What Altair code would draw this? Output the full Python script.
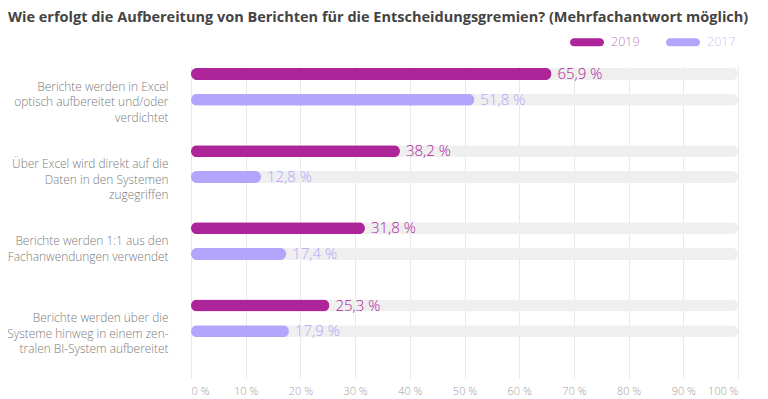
import altair as alt
import pandas as pd

# ---- data ----
category_lines = [
    ["Berichte werden in Excel", "optisch aufbereitet und/oder", "verdichtet"],
    ["Über Excel wird direkt auf die", "Daten in den Systemen", "zugegriffen"],
    ["Berichte werden 1:1 aus den", "Fachanwendungen verwendet"],
    ["Berichte werden über die", "Systeme hinweg in einem zen-", "tralen BI-System aufbereitet"],
]
series = ["2019", "2017"]
values_2019 = [65.9, 38.2, 31.8, 25.3]
values_2017 = [51.8, 12.8, 17.4, 17.9]
x_ticks = [0, 10, 20, 30, 40, 50, 60, 70, 80, 90, 100]

colors = ["#ae2499", "#b2a5fb"]
legend_label_colors = ["#c27cb6", "#cdc5f6"]
title = "Wie erfolgt die Aufbereitung von Berichten für die Entscheidungsgremien? (Mehrfachantwort möglich)"

categories = ["|".join(c) for c in category_lines]
rows = []
for cat, v19, v17 in zip(categories, values_2019, values_2017):
    for s, v in (("2019", v19), ("2017", v17)):
        rows.append({"cat": cat, "series": s, "value": v, "full": 100,
                     "label": f"{v:.1f}".replace(".", ",") + " %"})
df = pd.DataFrame(rows)

FONT = "Open Sans"

y_enc = alt.Y(
    "cat:N", sort=categories, title=None,
    scale=alt.Scale(paddingInner=0.46, paddingOuter=0.251, align=0),
    axis=alt.Axis(labelExpr="split(datum.label, '|')", labelPadding=23, ticks=False,
                  domain=False, labelFontSize=11.9, labelFontWeight=300, labelColor="#7a7a7a",
                  labelLineHeight=15.5, labelFont=FONT, labelLimit=400, grid=False),
)
yoff_enc = alt.YOffset("series:N", sort=series,
                       scale=alt.Scale(paddingInner=0.5, paddingOuter=0.0577))
color_scale = alt.Scale(domain=series, range=colors)

x_axis = alt.Axis(values=x_ticks, labelExpr="datum.value + ' %'", ticks=False, domain=False,
                  grid=True, gridColor="#e9e9e9", labelColor="#a0a0a0", labelFontSize=11,
                  labelFontWeight=300, labelFont=FONT, labelPadding=7, title=None)

base = alt.Chart(df)

bg = base.mark_bar(size=12, cornerRadius=6, color="#efefef").encode(
    x=alt.X("full:Q", scale=alt.Scale(domain=[0, 100]), axis=x_axis),
    y=y_enc, yOffset=yoff_enc,
)

cap = "M-0.76,-0.24 H0.76 A0.24,0.24 0 0 1 0.76,0.24 H-0.76 A0.24,0.24 0 0 1 -0.76,-0.24 Z"
label_color_expr = (f"datum.value === '{series[0]}' ? '{legend_label_colors[0]}' : "
                    f"'{legend_label_colors[1]}'")

bars = base.mark_bar(size=12, cornerRadius=6).encode(
    x=alt.X("value:Q"),
    y=y_enc, yOffset=yoff_enc,
    color=alt.Color("series:N", scale=color_scale, sort=series,
                    legend=alt.Legend(title=None, orient="none", direction="horizontal",
                                      legendX=379, legendY=-41, symbolType=cap, symbolSize=1156,
                                      symbolStrokeWidth=0, labelFontSize=12.5, labelFont=FONT,
                                      labelFontWeight=300,
                                      labelOffset=7, columnPadding=26, padding=0,
                                      labelColor=alt.ExprRef(label_color_expr))),
)

texts = base.mark_text(align="left", baseline="middle", dx=6, fontSize=15, fontWeight=300,
                       font=FONT).encode(
    x=alt.X("value:Q"),
    y=y_enc, yOffset=yoff_enc,
    text="label:N",
    color=alt.Color("series:N", scale=color_scale, legend=None),
)

chart = alt.layer(bg, bars, texts).properties(
    width=547, height=312,
    title=alt.TitleParams(title, anchor="start", frame="group", dx=-183, offset=0,
                          fontSize=14.5, font=FONT, fontWeight="bold", color="#444444"),
    autosize=alt.AutoSizeParams(type="none"),
    padding={"left": 183, "top": 58, "right": 22, "bottom": 20},
).configure_view(stroke=None)

chart.save("out.html", embed_options={"renderer": "svg", "actions": False})
